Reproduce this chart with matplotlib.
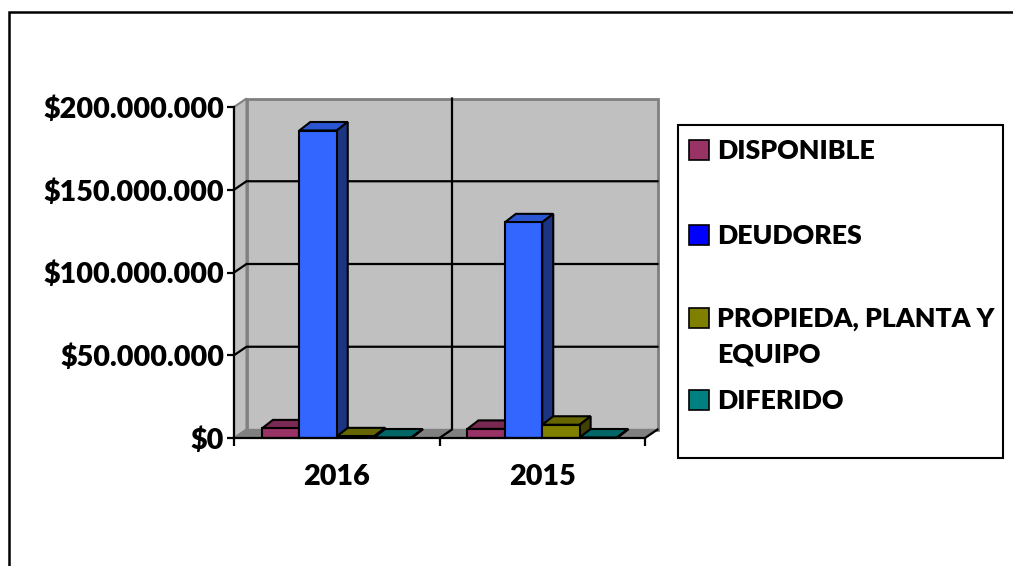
import matplotlib
matplotlib.use('Agg')
import matplotlib.pyplot as plt
from matplotlib.patches import Polygon, Rectangle
from matplotlib.ticker import FuncFormatter

years = ['2016', '2015']
series = ['DISPONIBLE', 'DEUDORES', 'PROPIEDA, PLANTA Y\nEQUIPO', 'DIFERIDO']
values = [
    [5.8e6, 5.5e6],      # disponible
    [185.8e6, 130.3e6],  # deudores
    [1.0e6, 8.0e6],      # propiedad, planta y equipo
    [0.3e6, 0.3e6],      # diferido
]
front_col = ['#993366', '#3366ff', '#808000', '#008080']
top_col = ['#7a2952', '#2a56d2', '#666600', '#006666']
side_col = ['#4d1a33', '#1c3582', '#404000', '#004040']
legend_col = ['#993366', '#0000ff', '#808000', '#008080']
yticks = [0, 50e6, 100e6, 150e6, 200e6]

W, H = 1013, 566
fig = plt.figure(figsize=(W / 100, H / 100), dpi=100)
plt.rcParams['font.family'] = ['Lato', 'DejaVu Sans']
fs = 20.7
fs_leg = 19.2
fw = 'heavy'

# axes = front plane of the 3d box
ax_l, ax_r, ax_t, ax_b = 234, 645, 107, 438
ax = fig.add_axes([ax_l / W, 1 - ax_b / H, (ax_r - ax_l) / W, (ax_b - ax_t) / H])
ax.set_xlim(0, 2)
ax.set_ylim(0, 200e6)
ax.patch.set_visible(False)

# depth offsets converted from pixels to data units
ddx = 12.5 / (ax_r - ax_l) * 2
ddy = 8.5 / (ax_b - ax_t) * 200e6
bdx = 11 / (ax_r - ax_l) * 2
bdy = 8.5 / (ax_b - ax_t) * 200e6
ymax = 200e6

# walls
ax.add_patch(Rectangle((ddx, ddy), 2, ymax, fc='#c0c0c0', ec='#808080', lw=2, zorder=0,
                       clip_on=False))
ax.add_patch(Polygon([(0, 0), (ddx, ddy), (ddx, ymax + ddy), (0, ymax)], closed=True,
                     fc='#c0c0c0', ec='#808080', lw=1.5, zorder=0.5, clip_on=False))
ax.add_patch(Polygon([(0, 0), (2, 0), (2 + ddx, ddy), (ddx, ddy)], closed=True,
                     fc='#808080', ec='#808080', lw=1, zorder=0.5, clip_on=False))

# gridlines
for v in yticks[1:-1]:
    ax.plot([0, ddx, 2 + ddx], [v, v + ddy, v + ddy], color='black', lw=1.6, zorder=1,
            clip_on=False)
ax.plot([1, 1 + ddx, 1 + ddx], [0, ddy, ymax + ddy], color='black', lw=1.6, zorder=1,
        clip_on=False)
ax.plot([2, 2 + ddx], [0, ddy], color='black', lw=1.6, zorder=1, clip_on=False)

# bars
group_start = 0.136
bw = 0.182
for k in range(len(series)):
    xs = [c + group_start + k * bw for c in range(len(years))]
    z = 3 + 2 * k
    ax.bar(xs, values[k], bw, align='edge', color=front_col[k], edgecolor='black',
           lw=1.5, zorder=z + 0.5, clip_on=False)
    for x, v in zip(xs, values[k]):
        ax.add_patch(Polygon([(x, v), (x + bdx, v + bdy), (x + bw + bdx, v + bdy), (x + bw, v)],
                             closed=True, fc=top_col[k], ec='black', lw=1.5, zorder=z,
                             clip_on=False))
        ax.add_patch(Polygon([(x + bw, 0), (x + bw + bdx, bdy), (x + bw + bdx, v + bdy), (x + bw, v)],
                             closed=True, fc=side_col[k], ec='black', lw=1.5, zorder=z,
                             clip_on=False))

# axes lines and ticks
for s in ['top', 'right']:
    ax.spines[s].set_visible(False)
for s in ['left', 'bottom']:
    ax.spines[s].set_linewidth(1.6)
    ax.spines[s].set_zorder(20)
ax.set_yticks(yticks)
ax.yaxis.set_major_formatter(FuncFormatter(lambda v, p: '$' + f'{int(v):,}'.replace(',', '.')))
ax.set_xticks([0, 1, 2])
ax.set_xticklabels([])
ax.set_xticks([0.5, 1.5], minor=True)
ax.set_xticklabels(years, minor=True)
ax.tick_params(axis='y', direction='out', length=5, width=1.6, pad=2, labelsize=fs)
ax.tick_params(axis='x', which='major', direction='out', length=6, width=1.6)
ax.tick_params(axis='x', which='minor', length=0, pad=19, labelsize=fs)
for lab in ax.get_yticklabels() + ax.get_xticklabels(minor=True):
    lab.set_fontweight(fw)

# legend drawn by hand
fig.patches.append(Rectangle((678 / W, 1 - 458 / H), (1003 - 678) / W, (458 - 125) / H,
                             transform=fig.transFigure, fill=False, ec='black', lw=1.5))
ly = [150, 235, 318, 400]
for k in range(len(series)):
    fig.patches.append(Rectangle((689 / W, 1 - (ly[k] + 10) / H), 20 / W, 20 / H,
                                 transform=fig.transFigure, fc=legend_col[k], ec='black', lw=1.2))
    fig.text(717 / W, 1 - (ly[k] - 11) / H, series[k], fontsize=fs_leg, fontweight=fw,
             va='top', ha='left', linespacing=1.6)

# outer border (runs off the right and bottom edges)
fig.patches.append(Rectangle((8.5 / W, -0.1), 1.2, 1.1 - 12.5 / H, transform=fig.transFigure,
                             fill=False, ec='black', lw=1.8))

fig.savefig('out.png', dpi=100)
